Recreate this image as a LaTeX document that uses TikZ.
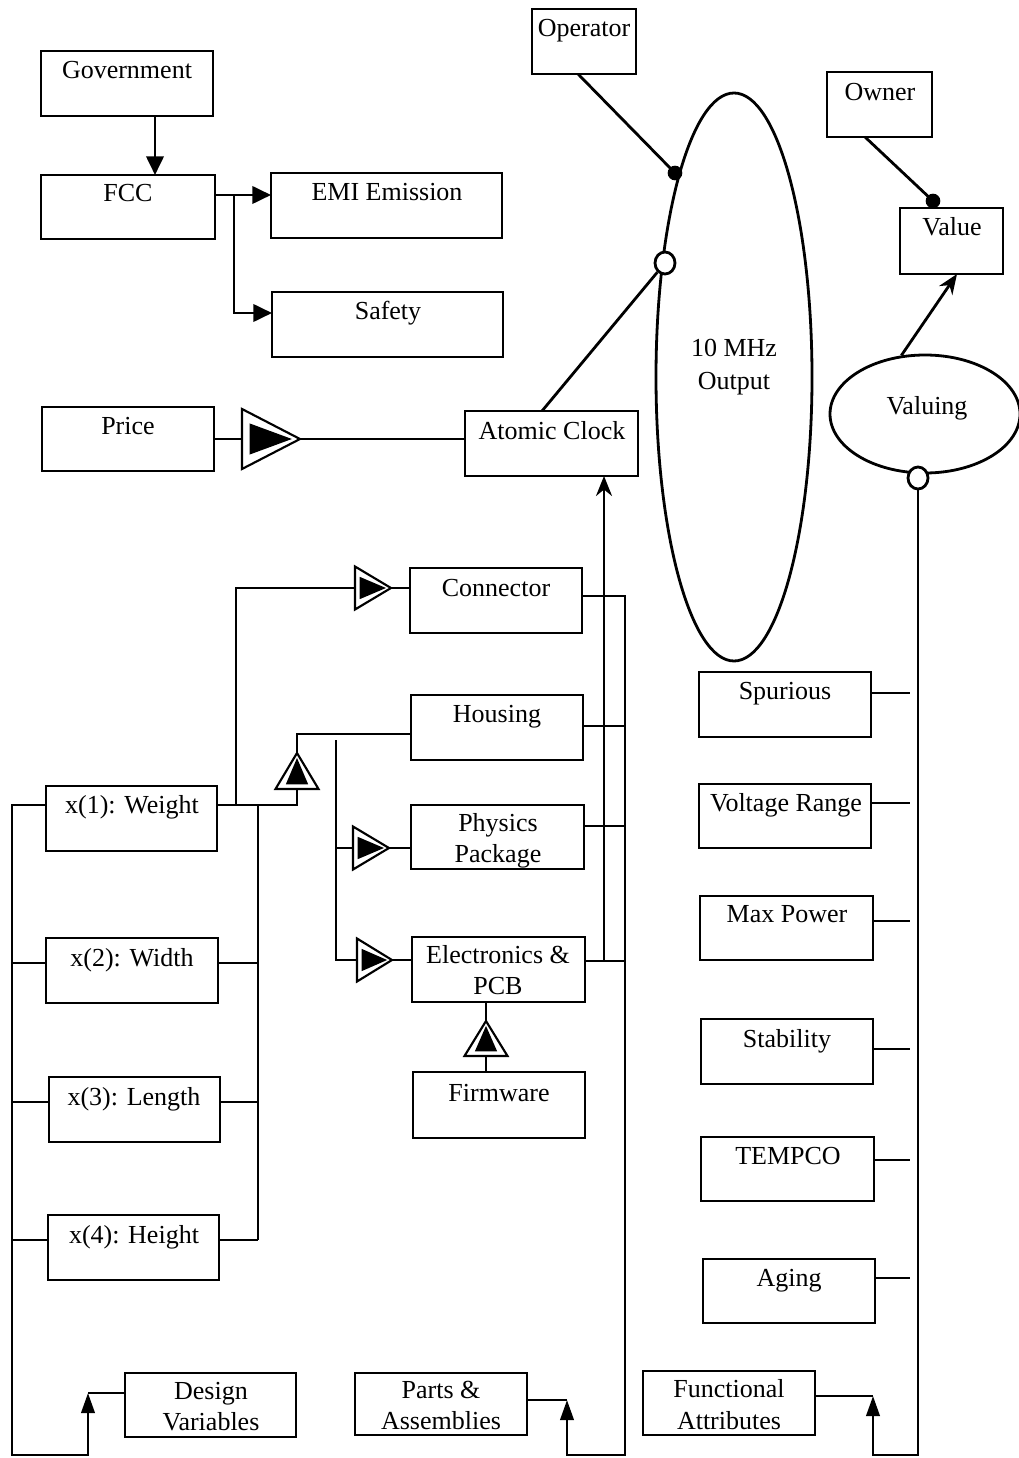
\documentclass[tikz,border=0pt]{standalone}
\usepackage{fontspec}
\setmainfont{Liberation Serif}
\usetikzlibrary{arrows.meta,shapes.geometric,fit,calc}
\tikzset{
  lw/.style={line width=2.1pt},
  box/.style={draw, lw, rectangle, inner sep=0pt, outer sep=0pt},
  txt/.style={font=\fontsize{19.5}{23}\selectfont, inner sep=0pt, anchor=base},
  wire/.style={lw},
  arr/.style={lw, -{Triangle[length=14pt,width=13pt]}},
  sarr/.style={lw, -{Stealth[length=15pt,width=12pt]}},
  uparr/.style={lw, -{Triangle[length=15pt,width=10pt]}},
  tri/.pic={
    \draw[line width=1.6pt, fill=white] (0,-0.5) -- (1,0) -- (0,0.5) -- cycle;
    \fill (0.13,-0.26) -- (0.86,0) -- (0.13,0.26) -- cycle;
    \coordinate (-in) at (0,0);
    \coordinate (-out) at (1,0);
  }
}
\begin{document}
\begin{tikzpicture}[x=0.75pt,y=-0.75pt]
\useasboundingbox (0,0) rectangle (1018,1458);

% ---------- boxes ----------
\node[box, fit={(41,51) (213,116)}] (gov) {};
\node[box, fit={(41,175) (215,239)}] (fcc) {};
\node[box, fit={(271,173) (502,238)}] (emi) {};
\node[box, fit={(272,292) (503,357)}] (saf) {};
\node[box, fit={(42,407) (214,471)}] (price) {};
\node[box, fit={(465,411) (638,476)}] (ac) {};
\node[box, fit={(532,9) (636,74)}] (op) {};
\node[box, fit={(827,72) (932,137)}] (own) {};
\node[box, fit={(900,208) (1003,274)}] (val) {};
\node[box, fit={(410,568) (582,633)}] (con) {};
\node[box, fit={(411,695) (583,760)}] (hou) {};
\node[box, fit={(411,805) (584,869)}] (phy) {};
\node[box, fit={(412,937) (585,1002)}] (ele) {};
\node[box, fit={(413,1072) (585,1138)}] (fw) {};
\node[box, fit={(46,786) (217,851)}] (w1) {};
\node[box, fit={(46,938) (218,1003)}] (w2) {};
\node[box, fit={(49,1077) (220,1142)}] (w3) {};
\node[box, fit={(48,1215) (219,1280)}] (w4) {};
\node[box, fit={(699,672) (871,737)}] (spu) {};
\node[box, fit={(699,784) (871,848)}] (vr) {};
\node[box, fit={(700,896) (873,960)}] (mp) {};
\node[box, fit={(701,1019) (873,1084)}] (stab) {};
\node[box, fit={(701,1137) (874,1201)}] (tmp) {};
\node[box, fit={(703,1259) (875,1323)}] (ag) {};
\node[box, fit={(125,1373) (296,1437)}] (dv) {};
\node[box, fit={(355,1373) (527,1435)}] (pa) {};
\node[box, fit={(643,1371) (815,1435)}] (fa) {};

% ellipses (sizes in pt = px * 0.75)
\node[draw, lw, ellipse, inner sep=0pt, minimum width=117pt, minimum height=426pt] (mhz) at (734,377) {};
\node[draw, lw, ellipse, inner sep=0pt, minimum width=142.5pt, minimum height=88.5pt] (vl) at (925,414) {};

% ---------- texts ----------
\node[txt] (t1) at (127,79) {Government};
\node[txt] (t2) at (128,202) {FCC};
\node[txt] (t3) at (387,201) {EMI Emission};
\node[txt] (t4) at (388,320) {Safety};
\node[txt] (t5) at (128,434) {Price};
\node[txt] (t6) at (552,439) {Atomic Clock};
\node[txt] (t7) at (584,37) {Operator};
\node[txt] (t8) at (880,101) {Owner};
\node[txt] (t9) at (952,236) {Value};
\node[txt] (t10) at (734,357) {10 MHz};
\node[txt] (t11) at (734,389) {Output};
\node[txt] (t12) at (927,414) {Valuing};
\node[txt] (t13) at (496,596) {Connector};
\node[txt] (t14) at (497,722) {Housing};
\node[txt] (t15) at (498,831) {Physics};
\node[txt] (t16) at (498,862) {Package};
\node[txt] (t17) at (498,963) {Electronics \&};
\node[txt] (t18) at (498,994) {PCB};
\node[txt] (t19) at (499,1101) {Firmware};
\node[txt] (t20) at (132,813) {x(1): Weight};
\node[txt] (t21) at (132,966) {x(2): Width};
\node[txt] (t22) at (134,1105) {x(3): Length};
\node[txt] (t23) at (134,1243) {x(4): Height};
\node[txt] (t24) at (785,699) {Spurious};
\node[txt] (t25) at (786,811) {Voltage Range};
\node[txt] (t26) at (787,922) {Max Power};
\node[txt] (t27) at (787,1047) {Stability};
\node[txt] (t28) at (788,1164) {TEMPCO};
\node[txt] (t29) at (789,1286) {Aging};
\node[txt] (t30) at (211,1399) {Design};
\node[txt] (t31) at (211,1430) {Variables};
\node[txt] (t32) at (441,1398) {Parts \&};
\node[txt] (t33) at (441,1429) {Assemblies};
\node[txt] (t34) at (729,1397) {Functional};
\node[txt] (t35) at (729,1429) {Attributes};

% ---------- triangles ----------
\pic[xscale=58,yscale=60] (pt) at (242,439) {tri};
\pic[xscale=36,yscale=43] (ct) at (355,588) {tri};
\pic[rotate=90,xscale=36,yscale=43] (ht) at (297,789) {tri};
\pic[xscale=36,yscale=43] (pht) at (353,848) {tri};
\pic[xscale=35,yscale=43] (et) at (357,960) {tri};
\pic[rotate=90,xscale=35,yscale=43] (ft) at (486,1056) {tri};

% ---------- top-left ----------
\draw[arr] ($(gov.south west)+(114,0)$) -- ($(fcc.north west)+(114,0)$);
\coordinate (fccout) at ($(fcc.north east)+(0,20)$);
\coordinate (fccj) at ($(fccout)+(19,0)$);
\draw[arr] (fccout) -- (fccout -| emi.west);
\draw[arr] (fccj) |- ($(saf.north west)+(0,21)$);

% ---------- price / atomic clock ----------
\draw[wire] (price.east) -- (pt-in);
\draw[wire] (pt-out) -- (pt-out -| ac.west);

% small circles and dots
\node[draw, lw, fill=white, ellipse, inner sep=0pt, minimum width=15pt, minimum height=16.5pt] (oc) at (665,263) {};
\node[draw, lw, fill=white, ellipse, inner sep=0pt, minimum width=15pt, minimum height=16.5pt] (oc2) at (918,478) {};
\draw[wire] ($(ac.north west)+(77,0)$) -- (oc);
\draw[wire] ($(op.south west)+(46,0)$) -- (675,173) coordinate (d1c);
\draw[wire] ($(own.south west)+(38,0)$) -- (933,201) coordinate (d2c);
\node[fill, circle, inner sep=0pt, minimum size=11pt] (dot1) at (d1c) {};
\node[fill, circle, inner sep=0pt, minimum size=11pt] (dot2) at (d2c) {};
\draw[sarr] (vl.112) -- ($(val.south west)+(57,0)$);

% ---------- functional attributes bus ----------
\coordinate (attx) at (910,0);
\coordinate (lb) at (12,1455);
\coordinate (fab) at ($(fa.north east)+(58,25)$);
\draw[wire] (fa.east |- fab) -- (fab);
\draw[uparr] (oc2.south) -- (oc2.south |- lb) -| (fab);
\coordinate (a1) at ($(spu.north east)+(0,21)$);
\coordinate (a2) at ($(vr.north east)+(0,19)$);
\coordinate (a3) at ($(mp.north east)+(0,25)$);
\coordinate (a4) at ($(stab.north east)+(0,30)$);
\coordinate (a5) at ($(tmp.north east)+(0,23)$);
\coordinate (a6) at ($(ag.north east)+(0,19)$);
\foreach \a in {a1,a2,a3,a4,a5,a6} \draw[wire] (\a) -- (\a -| attx);

% ---------- design variables ----------
\coordinate (dvb) at ($(dv.north west)+(-37,20)$);
\draw[wire] (dv.west |- dvb) -- (dvb);
\coordinate (w1l) at ($(w1.north west)+(0,19)$);
\coordinate (w2l) at ($(w2.north west)+(0,25)$);
\coordinate (w3l) at ($(w3.north west)+(0,25)$);
\coordinate (w4l) at ($(w4.north west)+(0,25)$);
\draw[uparr] (w1l) -| (lb) -| (dvb);
\foreach \w in {w2l,w3l,w4l} \draw[wire] (\w) -- (\w -| lb);

\coordinate (w1r) at ($(w1.north east)+(0,19)$);
\coordinate (w2r) at ($(w2.north east)+(0,25)$);
\coordinate (w3r) at ($(w3.north east)+(0,25)$);
\coordinate (w4r) at ($(w4.north east)+(0,25)$);
\coordinate (xj) at ($(w1r)+(41,0)$);
\coordinate (cj) at ($(w1r)+(19,0)$);
\draw[wire] (w1r) -| (ht-in);
\draw[wire] (ht-out) |- ($(hou.north west)+(0,39)$);
\draw[wire] (cj) |- (ct-in);
\draw[wire] (ct-out) -- (ct-out -| con.west);
\draw[wire] (xj) -- (xj |- w4r);
\foreach \w in {w2r,w3r,w4r} \draw[wire] (\w) -- (\w -| xj);

% ---------- parts ----------
\coordinate (mt) at (336,740);
\draw[wire] (mt) |- (et-in);
\draw[wire] (pht-in -| mt) -- (pht-in);
\draw[wire] (pht-out) -- (pht-out -| phy.west);
\draw[wire] (et-out) -- (et-out -| ele.west);
\draw[wire] (fw.north -| ft-in) -- (ft-in);
\draw[wire] (ft-out) -- (ft-out |- ele.south);

\coordinate (cr) at ($(con.north east)+(0,28)$);
\coordinate (rbt) at ($(cr)+(43,0)$);
\coordinate (pab) at ($(pa.north east)+(40,27)$);
\draw[wire] (pa.east |- pab) -- (pab);
\draw[uparr] (cr) -- (rbt) -- (rbt |- lb) -| (pab);
\coordinate (hr) at ($(hou.north east)+(0,31)$);
\coordinate (pr) at ($(phy.north east)+(0,21)$);
\coordinate (er) at ($(ele.north east)+(0,24)$);
\foreach \r in {hr,pr,er} \draw[wire] (\r) -- (\r -| rbt);
\coordinate (aj) at ($(ac.south west)+(139,0)$);
\draw[sarr] (er -| aj) -- (aj);
\end{tikzpicture}
\end{document}
